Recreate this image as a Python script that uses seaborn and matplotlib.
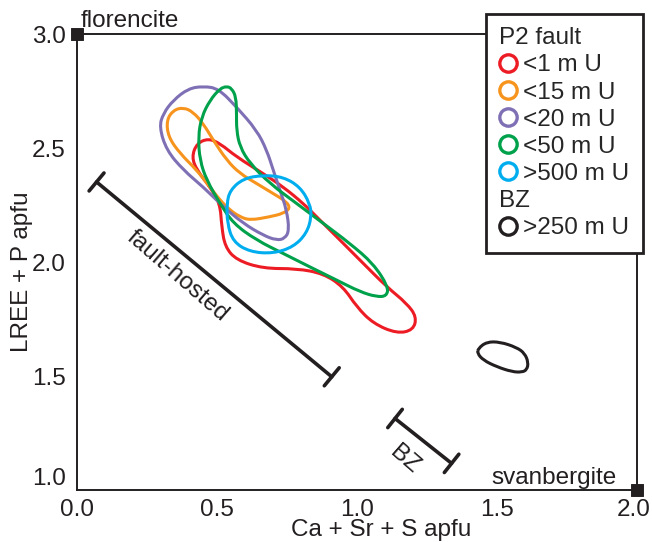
import numpy as np
import pandas as pd
import seaborn as sns
import matplotlib
matplotlib.use("Agg")
import matplotlib.pyplot as plt
import matplotlib.transforms as mtrans
from matplotlib.path import Path
from matplotlib.patches import PathPatch
from matplotlib.lines import Line2D

# outlines of the data fields (Ca+Sr+S apfu, LREE+P apfu)
red_x = [0.470, 0.429, 0.411, 0.429, 0.476, 0.512, 0.518, 0.530, 0.571, 0.666, 0.786, 0.881, 0.952,
         1.000, 1.059, 1.143, 1.202, 1.214, 1.179, 1.107, 1.024, 0.929, 0.857, 0.810, 0.738, 0.666,
         0.571, 0.512]
red_y = [2.543, 2.521, 2.462, 2.404, 2.330, 2.257, 2.155, 2.067, 2.009, 1.972, 1.972, 1.950, 1.892,
         1.804, 1.731, 1.687, 1.702, 1.760, 1.819, 1.892, 1.994, 2.111, 2.199, 2.257, 2.330, 2.389,
         2.462, 2.521]

orange_x = [0.321, 0.345, 0.381, 0.416, 0.452, 0.488, 0.536, 0.583, 0.643, 0.702, 0.750, 0.762,
            0.738, 0.690, 0.619, 0.583, 0.548, 0.512, 0.476, 0.429, 0.369, 0.327]
orange_y = [2.623, 2.667, 2.679, 2.659, 2.608, 2.535, 2.447, 2.389, 2.345, 2.301, 2.265, 2.236,
            2.214, 2.199, 2.184, 2.199, 2.228, 2.272, 2.330, 2.404, 2.477, 2.550]

purple_x = [0.295, 0.309, 0.345, 0.399, 0.452, 0.506, 0.571, 0.643, 0.679, 0.702, 0.726, 0.750,
            0.759, 0.744, 0.714, 0.666, 0.595, 0.524, 0.452, 0.381, 0.321]
purple_y = [2.593, 2.652, 2.711, 2.762, 2.772, 2.762, 2.681, 2.579, 2.491, 2.404, 2.316, 2.228,
            2.140, 2.104, 2.096, 2.118, 2.170, 2.243, 2.330, 2.404, 2.491]

green_x = [0.536, 0.554, 0.569, 0.571, 0.571, 0.583, 0.619, 0.690, 0.786, 0.881, 0.976, 1.059,
           1.113, 1.107, 1.071, 1.012, 0.929, 0.833, 0.738, 0.643, 0.559, 0.512, 0.464, 0.440,
           0.434, 0.446, 0.476, 0.512]
green_y = [2.772, 2.762, 2.725, 2.652, 2.579, 2.506, 2.433, 2.345, 2.257, 2.170, 2.082, 1.994,
           1.892, 1.851, 1.848, 1.870, 1.921, 1.979, 2.038, 2.096, 2.170, 2.257, 2.360, 2.447,
           2.550, 2.637, 2.711, 2.762]

cyan_x = [0.536, 0.548, 0.595, 0.666, 0.738, 0.798, 0.833, 0.839, 0.821, 0.774, 0.702, 0.619,
          0.559, 0.538]
cyan_y = [2.257, 2.316, 2.367, 2.382, 2.374, 2.330, 2.257, 2.199, 2.126, 2.067, 2.038, 2.045,
          2.089, 2.170]

black_x = [1.434, 1.464, 1.512, 1.571, 1.600, 1.613, 1.608, 1.590, 1.555, 1.500, 1.452, 1.431]
black_y = [1.621, 1.650, 1.650, 1.626, 1.600, 1.560, 1.528, 1.517, 1.519, 1.541, 1.570, 1.600]

# range bars
fault_start = (0.071, 2.352)
fault_end = (0.911, 1.497)
bz_start = (1.137, 1.314)
bz_end = (1.339, 1.117)

# end members
end_x = [0.0, 2.0]
end_y = [3.0, 1.0]
end_names = ["florencite", "svanbergite"]

labels = ["<1 m U", "<15 m U", "<20 m U", "<50 m U", ">500 m U", "BZ", ">250 m U"]
colors = ["#ed1c24", "#f7941d", "#7f70b5", "#00a14b", "#00aeef", None, "#231f20"]
ink = "#231f20"
fs = 17.5

sns.set_theme(style="white")
plt.rcParams["font.family"] = ["Liberation Sans", "DejaVu Sans"]
plt.rcParams["axes.edgecolor"] = ink


def smooth_loop(ax, xs, ys, color):
    # closed quadratic bezier through the traced points
    pts = np.column_stack([xs, ys])
    mids = (pts + np.roll(pts, -1, axis=0)) / 2
    verts = [mids[-1]]
    codes = [Path.MOVETO]
    for i in range(len(pts)):
        verts += [pts[i], mids[i]]
        codes += [Path.CURVE3, Path.CURVE3]
    ax.add_patch(PathPatch(Path(verts, codes), fill=False, edgecolor=color,
                           lw=2.2, joinstyle="round", zorder=3))


fig = plt.figure(figsize=(6.52, 5.42), dpi=100)
ax = fig.add_axes([0.1176, 0.0959, 0.8589, 0.8408])

loops = [(red_x, red_y), (orange_x, orange_y), (purple_x, purple_y),
         (green_x, green_y), (cyan_x, cyan_y), None, (black_x, black_y)]
for loop, c in zip(loops, colors):
    if loop is not None:
        smooth_loop(ax, loop[0], loop[1], c)

ends = pd.DataFrame({"x": end_x, "y": end_y, "name": end_names})
sns.scatterplot(data=ends, x="x", y="y", marker="s", s=70, color=ink,
                edgecolor=ink, clip_on=False, zorder=6, ax=ax, legend=False)
ax.text(0.015, 3.012, end_names[0], fontsize=fs, color=ink, ha="left", va="bottom")
ax.text(1.482, 1.028, end_names[1], fontsize=fs, color=ink, ha="left", va="baseline")

bar_style = dict(arrowstyle="|-|,widthA=0.7,widthB=0.7", color=ink, lw=2.6,
                 shrinkA=0, shrinkB=0)
ax.annotate("", xy=fault_end, xytext=fault_start, arrowprops=bar_style)
ax.annotate("", xy=bz_end, xytext=bz_start, arrowprops=bar_style)
ax.text(0.36, 1.94, "fault-hosted", fontsize=fs, color=ink, rotation=-41,
        ha="center", va="center", rotation_mode="anchor")
ax.text(1.172, 1.135, "BZ", fontsize=fs, color=ink, rotation=-41,
        ha="center", va="center", rotation_mode="anchor")

ax.set_xlim(0, 2.0)
ax.set_ylim(1.0, 3.0)
ax.set_xticks([0.0, 0.5, 1.0, 1.5, 2.0])
ax.set_yticks([1.0, 1.5, 2.0, 2.5, 3.0])
ax.set_xticklabels(["0.0", "0.5", "1.0", "1.5", "2.0"])
ax.set_yticklabels(["1.0", "1.5", "2.0", "2.5", "3.0"])
ax.tick_params(axis="x", direction="in", length=6, width=1.3, pad=6.5,
               labelsize=fs, colors=ink)
ax.tick_params(axis="y", direction="out", length=4, width=1.3, pad=4,
               labelsize=fs, colors=ink)
ax.get_yticklabels()[0].set_va("bottom")
last = ax.get_xticklabels()[-1]
last.set_transform(last.get_transform()
                   + mtrans.ScaledTranslation(-3 / 100, 0, fig.dpi_scale_trans))
for s in ax.spines.values():
    s.set_linewidth(1.4)
    s.set_color(ink)

ax.set_xlabel("Ca + Sr + S apfu", fontsize=fs, color=ink)
ax.set_ylabel("LREE + P apfu", fontsize=fs, color=ink)
ax.xaxis.set_label_coords(0.543, -0.064)
ax.yaxis.set_label_coords(-0.078, 0.48)

handles = []
for c in colors:
    if c is None:
        handles.append(Line2D([], [], ls="none"))
    else:
        handles.append(Line2D([], [], ls="none", marker="o", ms=12.5, mfc="none",
                              mec=c, mew=2.4))
leg = ax.legend(handles, labels, title="P2 fault", loc="upper right",
                bbox_to_anchor=(1.011, 1.0446), frameon=True, fancybox=False,
                edgecolor=ink, framealpha=1, fontsize=fs, title_fontsize=fs,
                alignment="left", handlelength=0.75, handletextpad=0.25,
                borderpad=0.55, labelspacing=0.21, borderaxespad=0)
leg.get_frame().set_linewidth(2)
leg.set_zorder(10)
leg.get_texts()[5].set_x(-24)

fig.savefig("out.png", dpi=100)
